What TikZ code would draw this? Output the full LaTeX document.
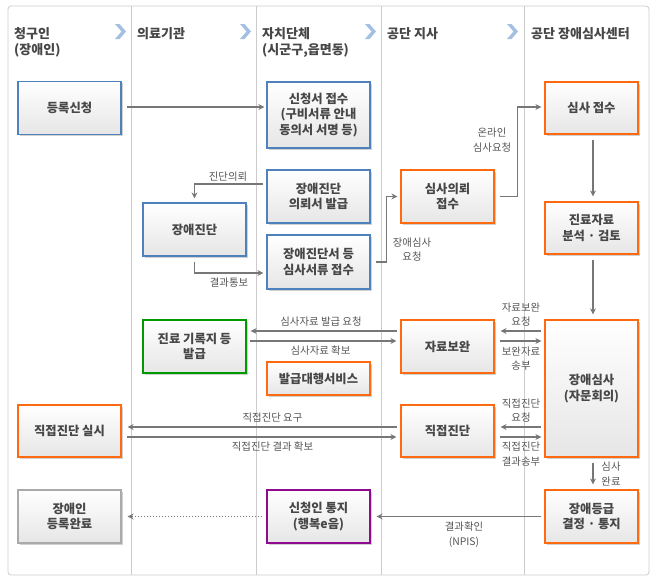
\documentclass[tikz,border=0pt]{standalone}
\usepackage{fontspec}
\setmainfont{Noto Sans CJK KR}
\usetikzlibrary{arrows.meta,shadows}
\definecolor{cblue}{HTML}{4F81BD}
\definecolor{corange}{HTML}{FF6A10}
\definecolor{cgreen}{HTML}{009A00}
\definecolor{cpurple}{HTML}{8E0A8E}
\definecolor{cgray}{HTML}{AAAAAA}
\definecolor{framec}{HTML}{CCCCCC}
\definecolor{txt}{HTML}{474747}
\definecolor{lbltxt}{HTML}{555555}
\definecolor{arrc}{HTML}{777777}
\definecolor{chev}{HTML}{A3BFE2}
\definecolor{boxbot}{HTML}{E6E6E6}
\begin{document}
\begin{tikzpicture}[x=1pt,y=-1pt,
  box/.style={draw, line width=1.2pt, minimum width=103pt, minimum height=53pt,
    inner sep=2pt, align=center, text=txt,
    font=\bfseries\fontsize{12.3}{15.5}\selectfont,
    top color=white, bottom color=boxbot,
    drop shadow={shadow xshift=1.5pt, shadow yshift=-1.5pt, fill=black, opacity=0.18}},
  narrow/.style={minimum width=93pt},
  bluebox/.style={draw=cblue},
  orangebox/.style={draw=corange},
  greenbox/.style={draw=cgreen},
  purplebox/.style={draw=cpurple},
  graybox/.style={draw=cgray},
  lbl/.style={font=\fontsize{10.4}{14.5}\selectfont, text=lbltxt, align=center, inner sep=0pt},
  hdr/.style={font=\bfseries\fontsize{13}{16}\selectfont, text=txt, align=left, inner sep=0pt, anchor=base west},
  arr/.style={draw=arrc, line width=1.3pt, -{Stealth[length=6pt,width=6pt]}, shorten <=4pt, shorten >=4pt},
  frame/.style={draw=framec, line width=0.8pt},
  chevron/.style={fill=chev, draw=none}
]
\useasboundingbox (0,0) rectangle (659,582);
\fill[white] (0,0) rectangle (659,582);
% frame and columns
\draw[frame, rounded corners=3pt] (8,6) rectangle (649,575);
\foreach \cx in {131,256,381,524} \draw[frame] (\cx,6) -- (\cx,575);
% header (base anchor of a two-line node is the baseline of its last line)
\node[hdr] (h1) at (14,54) {청구인\\(장애인)};
\node[hdr] (h2) at (137,38) {의료기관};
\node[hdr] (h3) at (262,54) {자치단체\\(시군구,읍면동)};
\node[hdr] (h4) at (387,38) {공단 지사};
\node[hdr] (h5) at (531,38) {공단 장애심사센터};
\foreach \cx in {115,240,365,507}
  \fill[chevron] (\cx,24) -- ++(4.5,0) -- ++(6.5,7.5) -- ++(-6.5,7.5) -- ++(-4.5,0) -- ++(6.5,-7.5) -- cycle;
% boxes
\node[box, bluebox] (reg) at (69.5,108) {등록신청};
\node[box, bluebox, minimum height=66pt] (apply) at (318.5,115) {신청서 접수\\(구비서류 안내\\동의서 서명 등)};
\node[box, bluebox] (referral) at (318.5,196.5) {장애진단\\의뢰서 발급};
\node[box, bluebox, minimum height=54pt] (docs) at (318.5,262) {장애진단서 등\\심사서류 접수};
\node[box, bluebox] (diag) at (194.5,229.5) {장애진단};
\node[box, orangebox, narrow] (req) at (447.5,196.5) {심사의뢰\\접수};
\node[box, orangebox, narrow, minimum height=52pt] (recv) at (591.5,108) {심사 접수};
\node[box, orangebox, narrow, minimum height=52pt] (analysis) at (591.5,228) {진료자료\\분석 · 검토};
\node[box, greenbox] (records) at (194.5,346.5) {진료 기록지 등\\발급};
\node[box, orangebox, minimum height=33pt] (agency) at (318.5,378.5) {발급대행서비스};
\node[box, orangebox, narrow] (supp) at (447.5,346.5) {자료보완};
\node[box, orangebox, narrow, minimum height=137pt] (review) at (591.5,388.5) {장애심사\\(자문회의)};
\node[box, orangebox, narrow, minimum height=52pt] (direct) at (447.5,431) {직접진단};
\node[box, orangebox, minimum height=52pt] (directdo) at (69.5,431) {직접진단 실시};
\node[box, graybox] (done) at (69.5,516.5) {장애인\\등록완료};
\node[box, purplebox] (notify) at (318.5,516.5) {신청인 통지\\(행복e음)};
\node[box, orangebox, narrow] (grade) at (591.5,516.5) {장애등급\\결정 · 통지};
% row coordinates
\coordinate (yA) at (0,331);
\coordinate (yB) at (0,341);
\coordinate (yC) at (0,427);
\coordinate (yD) at (0,437);
% connectors
\draw[arr, shorten <=5pt, shorten >=2pt] ([yshift=1pt]reg.east) -- ([yshift=1pt]apply.west |- reg.east);
\draw[arr, shorten <=3pt] ([yshift=12.5pt]referral.west) -| (diag.north);
\draw[arr, shorten <=5pt, shorten >=3pt] (diag.south) |- ([yshift=-11pt]docs.west);
\draw[arr, shorten <=5pt, shorten >=3pt] (docs.east) -- ++(16,0) |- (req.west);
\draw[arr, shorten <=5pt, shorten >=3pt] (req.east) -- ++(23,0) |- ([yshift=1pt]recv.west);
\draw[arr, shorten <=5pt, shorten >=5pt] ([xshift=1.5pt]recv.south) -- ([xshift=1.5pt]analysis.north);
\draw[arr, shorten <=5pt, shorten >=5pt] ([xshift=1.5pt]analysis.south) -- ([xshift=1.5pt]review.north);
\draw[arr, shorten <=5pt, shorten >=5pt] ([xshift=1.5pt]review.south) -- ([xshift=1.5pt]grade.north);
\draw[arr, shorten <=3pt] (supp.west |- yA) -- (records.east |- yA);
\draw[arr, shorten <=3pt] (records.east |- yB) -- (supp.west |- yB);
\draw[arr, shorten <=3pt, shorten >=6pt] (review.west |- yA) -- (supp.east |- yA);
\draw[arr, shorten <=5pt, shorten >=3pt] (supp.east |- yB) -- (review.west |- yB);
\draw[arr, shorten <=3pt, shorten >=6pt] (direct.west |- yC) -- (directdo.east |- yC);
\draw[arr, shorten <=5pt, shorten >=4pt] (directdo.east |- yD) -- (direct.west |- yD);
\draw[arr, shorten <=3pt, shorten >=6pt] (review.west |- yC) -- (direct.east |- yC);
\draw[arr, shorten <=5pt, shorten >=3pt] (direct.east |- yD) -- (review.west |- yD);
\draw[arr, shorten <=3pt, shorten >=6pt] (grade.west) -- (notify.east);
\draw[arr, dash pattern=on 1.5pt off 1.5pt, shorten >=6pt] (notify.west) -- (done.east);
% labels
\node[lbl] (l1) at (228,177) {진단의뢰};
\node[lbl] (l2) at (229,283) {결과통보};
\node[lbl] (l3) at (412,249.5) {장애심사\\요청};
\node[lbl] (l4) at (492,140) {온라인\\심사요청};
\node[lbl] (l5) at (321,322) {심사자료 발급 요청};
\node[lbl] (l6) at (320.5,351) {심사자료 확보};
\node[lbl] (l7) at (521,314.5) {자료보완\\요청};
\node[lbl] (l8) at (521,358.5) {보완자료\\송부};
\node[lbl] (l9) at (521,410.5) {직접진단\\요청};
\node[lbl] (l10) at (521,454) {직접진단\\결과송부};
\node[lbl] (l11) at (272.5,418) {직접진단 요구};
\node[lbl] (l12) at (272.5,447) {직접진단 결과 확보};
\node[lbl] (l13) at (611,474) {심사\\완료};
\node[lbl] (l14) at (464,534.5) {결과확인\\(NPIS)};
\end{tikzpicture}
\end{document}
